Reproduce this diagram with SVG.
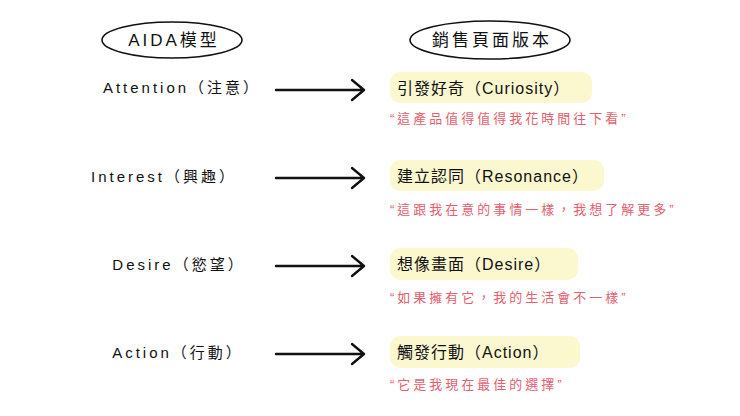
<svg xmlns="http://www.w3.org/2000/svg" width="740" height="416" viewBox="0 0 740 416">
<style>
text{font-family:"Liberation Sans","Noto Sans CJK TC",sans-serif;fill:#111}
.h{font-size:17px;text-anchor:middle;letter-spacing:3px}
.l{font-size:15px;text-anchor:middle;letter-spacing:3px}
.m{font-size:16px;letter-spacing:1px}
.q{font-size:13px;fill:#e4606e;letter-spacing:3px}
.hl{fill:#fbf8cf}
.oval{fill:none;stroke:#111;stroke-width:1.6}
.arr{stroke:#111;stroke-width:2.4;fill:none;stroke-linecap:round;stroke-linejoin:round}
</style>
<rect width="740" height="416" fill="#fff"/>
<g id="header-aida"><ellipse class="oval" cx="172" cy="40" rx="70" ry="18"/><text class="h" x="174" y="46">AIDA模型</text></g>
<g id="header-sales"><ellipse class="oval" cx="490" cy="40" rx="80" ry="19"/><text class="h" x="492" y="46">銷售頁面版本</text></g>
<g id="left-attention"><text class="l" x="182" y="93">Attention（注意）</text></g>
<g id="left-interest"><text class="l" x="164" y="182">Interest（興趣）</text></g>
<g id="left-desire"><text class="l" x="179" y="270">Desire（慾望）</text></g>
<g id="left-action"><text class="l" x="178" y="358">Action（行動）</text></g>
<g id="connectors">
<path class="arr" d="M276 90H364M352 80L364 90L352 100"/>
<path class="arr" d="M276 178H364M352 168L364 178L352 188"/>
<path class="arr" d="M276 266H364M352 256L364 266L352 276"/>
<path class="arr" d="M276 354H364M352 344L364 354L352 364"/>
</g>
<g id="row-curiosity"><rect class="hl" x="390" y="72" width="202" height="31" rx="10"/><text class="m" x="397" y="94">引發好奇（Curiosity）</text><text class="q" x="390" y="123">“這產品值得值得我花時間往下看”</text></g>
<g id="row-resonance"><rect class="hl" x="390" y="160" width="214" height="31" rx="10"/><text class="m" x="397" y="182">建立認同（Resonance）</text><text class="q" x="390" y="214">“這跟我在意的事情一樣，我想了解更多”</text></g>
<g id="row-desire"><rect class="hl" x="390" y="248" width="188" height="32" rx="10"/><text class="m" x="397" y="270">想像畫面（Desire）</text><text class="q" x="390" y="302">“如果擁有它，我的生活會不一樣”</text></g>
<g id="row-action"><rect class="hl" x="390" y="336" width="190" height="32" rx="10"/><text class="m" x="397" y="358">觸發行動（Action）</text><text class="q" x="390" y="389">“它是我現在最佳的選擇”</text></g>
</svg>
